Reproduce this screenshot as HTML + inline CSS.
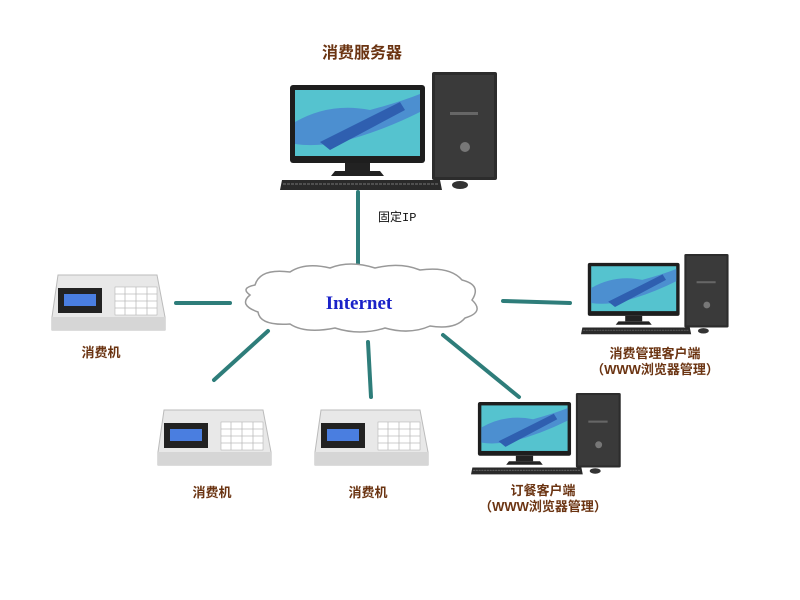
<!DOCTYPE html>
<html><head><meta charset="utf-8"><style>
body{margin:0;background:#fff}
svg{display:block}
.lb{font-family:"Liberation Sans","Noto Sans CJK SC",sans-serif;font-weight:bold;fill:#6b3412}
</style></head><body>
<svg width="800" height="600" viewBox="0 0 800 600" xmlns="http://www.w3.org/2000/svg">
<defs>
<g id="pc">
  <!-- monitor -->
  <rect x="10" y="13" width="135" height="78" rx="3" fill="#1e1e1e"/>
  <rect x="15" y="18" width="125" height="66" fill="#55c3cf"/>
  <path d="M15 50 Q50 30 90 38 Q120 30 140 22 L140 40 Q100 60 60 70 Q35 75 15 72Z" fill="#4c8fd0"/>
  <path d="M40 70 L120 30 L125 38 L50 78Z" fill="#2f5fb0"/>
  <rect x="65" y="91" width="25" height="8" fill="#222"/>
  <path d="M55 99 L100 99 L104 104 L51 104Z" fill="#222"/>
  <!-- keyboard -->
  <path d="M2 108 L160 108 L162 118 L0 118Z" fill="#2a2a2a"/>
  <line x1="3" y1="112" x2="159" y2="112" stroke="#777" stroke-width="1" stroke-dasharray="3 1"/>
  <!-- tower -->
  <rect x="152" y="0" width="65" height="108" rx="2" fill="#2c2c2c"/>
  <rect x="155" y="3" width="59" height="102" fill="#3a3a3a"/>
  <rect x="170" y="40" width="28" height="3" fill="#666"/>
  <circle cx="185" cy="75" r="5" fill="#777"/>
  <ellipse cx="180" cy="113" rx="8" ry="4" fill="#333"/>
</g>
<g id="term">
  <path d="M6 0 L105 0 L113 42 L113 55 L0 55 L0 42Z" fill="#e8e8e8" stroke="#bbb"/>
  <rect x="0" y="42" width="113" height="13" fill="#d6d6d6"/>
  <rect x="6" y="13" width="44" height="25" fill="#222"/>
  <rect x="12" y="19" width="32" height="12" fill="#4a7ee0"/>
  <g fill="#fff" stroke="#aaa" stroke-width="0.5">
    <rect x="63" y="12" width="42" height="28"/>
  </g>
  <g stroke="#bbb" stroke-width="0.8">
    <line x1="63" y1="19" x2="105" y2="19"/><line x1="63" y1="26" x2="105" y2="26"/><line x1="63" y1="33" x2="105" y2="33"/>
    <line x1="73" y1="12" x2="73" y2="40"/><line x1="84" y1="12" x2="84" y2="40"/><line x1="95" y1="12" x2="95" y2="40"/>
  </g>
</g>
</defs>

<!-- connectors -->
<g stroke="#2e7d7a" stroke-width="4" stroke-linecap="round">
  <line x1="358" y1="192" x2="358" y2="266"/>
  <line x1="176" y1="303" x2="230" y2="303"/>
  <line x1="268" y1="331" x2="214" y2="380"/>
  <line x1="368" y1="342" x2="371" y2="397"/>
  <line x1="443" y1="335" x2="519" y2="397"/>
  <line x1="503" y1="301" x2="570" y2="303"/>
</g>

<!-- cloud -->
<path d="M255 285 Q260 268 290 272 Q305 262 330 268 Q350 260 375 268 Q400 262 420 270 Q450 266 462 280 Q482 285 472 300 Q485 312 465 318 Q455 330 430 326 Q410 335 385 328 Q360 336 335 328 Q305 334 290 324 Q260 326 258 312 Q238 305 250 295 Q240 288 255 285Z" fill="#fff" stroke="#999" stroke-width="1.5"/>
<text x="359" y="309" text-anchor="middle" font-family="Liberation Serif,serif" font-weight="bold" font-size="19" fill="#1a22c8">Internet</text>

<!-- server -->
<text x="362" y="58" text-anchor="middle" class="lb" font-size="16">消费服务器</text>
<use href="#pc" transform="translate(280,72)"/>
<text x="378" y="221" font-family="Liberation Mono,'Noto Sans CJK SC',monospace" font-size="12" fill="#111">固定IP</text>

<!-- terminals -->
<use href="#term" transform="translate(52,275)"/>
<text x="101" y="357" text-anchor="middle" class="lb" font-size="13" fill="#5a2010">消费机</text>
<use href="#term" transform="translate(158,410)"/>
<text x="212" y="497" text-anchor="middle" class="lb" font-size="13">消费机</text>
<use href="#term" transform="translate(315,410)"/>
<text x="368" y="497" text-anchor="middle" class="lb" font-size="13">消费机</text>

<!-- right client -->
<use href="#pc" transform="translate(581,254) scale(0.68)"/>
<text x="655" y="358" text-anchor="middle" class="lb" font-size="13">消费管理客户端</text>
<text x="655" y="374" text-anchor="middle" class="lb" font-size="13">（WWW浏览器管理）</text>

<!-- bottom client -->
<use href="#pc" transform="translate(471,393) scale(0.69)"/>
<text x="543" y="495" text-anchor="middle" class="lb" font-size="13">订餐客户端</text>
<text x="543" y="511" text-anchor="middle" class="lb" font-size="13">（WWW浏览器管理）</text>
</svg>
</body></html>
